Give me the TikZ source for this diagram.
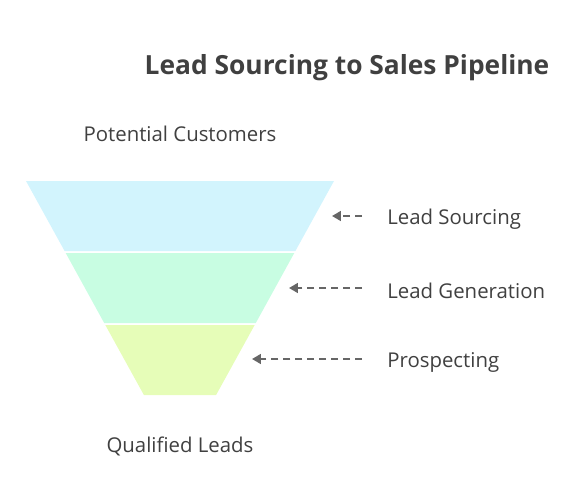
\documentclass[tikz,border=0pt]{standalone}
\usepackage{fontspec}
\setmainfont{Open Sans}
\usetikzlibrary{arrows.meta}
\definecolor{bandA}{HTML}{D2F4FD}
\definecolor{bandB}{HTML}{C8FDE2}
\definecolor{bandC}{HTML}{E6FDB8}
\definecolor{ink}{HTML}{404040}
\definecolor{feedgrey}{HTML}{666666}
\tikzset{stage/.style={anchor=west,inner sep=0pt,text=ink,font=\fontsize{11.6}{13}\selectfont},
         caption/.style={inner sep=0pt,text=ink,font=\fontsize{11.6}{13}\selectfont},
         feed/.style={draw=feedgrey,line width=1.1pt,dash pattern=on 4pt off 2.8pt,
                      -{Triangle[length=5pt,width=5.5pt]},shorten <=25*0.02cm},
        }

\begin{document}
\begin{tikzpicture}[x=0.02cm,y=-0.02cm]
        \useasboundingbox (0,0) rectangle (582,504);
        \node[inner sep=0pt,text=ink,font=\bfseries\fontsize{15}{17}\selectfont](title)at(347,68){Lead Sourcing to Sales Pipeline};

        \fill[bandA](26,181)--(334,181)--(295.4,251)--(64.6,251)--cycle;
        \fill[bandB](65.7,253)--(294.3,253)--(255.8,323)--(104.2,323)--cycle;
        \fill[bandC](105.3,325)--(254.7,325)--(216.1,395)--(143.9,395)--cycle;

        \node[caption](top)at(180,134){Potential Customers};
        \node[caption](bottom)at(180,446){Qualified Leads};

        \node[stage](s1)at(387,219){Lead Sourcing};
        \node[stage](s2)at(387,291){Lead Generation};
        \node[stage](s3)at(387,362){Prospecting};
        \coordinate(t1)at(332,216);
        \coordinate(t2)at(289,288);
        \coordinate(t3)at(252,359);

        \draw[feed](s1.west|-t1)--(t1);
        \draw[feed](s2.west|-t2)--(t2);
        \draw[feed](s3.west|-t3)--(t3);
    \end{tikzpicture}
\end{document}
